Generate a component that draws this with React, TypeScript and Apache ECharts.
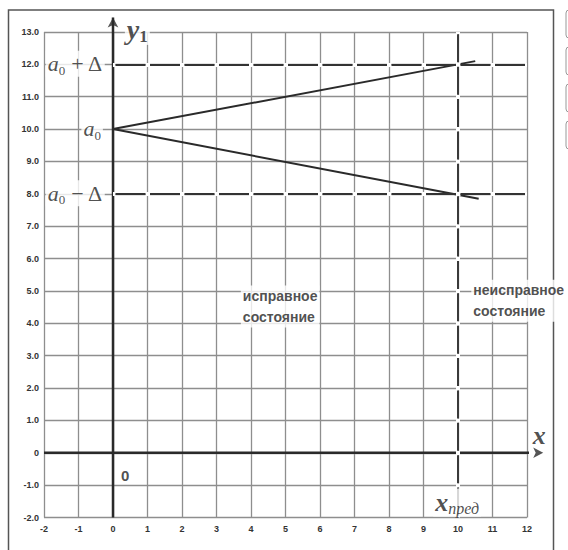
import React, { useEffect, useRef } from "react";
import * as echarts from "echarts";

// axis ranges
const xRange = [-2, 12];
const yRange = [-2, 13];
// key levels
const a0 = 10;
const delta = 2;
const xPred = 10;
// trend lines
const upperTrend = [[0, 10], [10.5, 12.1]];
const lowerTrend = [[0, 10], [10.6, 7.85]];
// axis arrows end points
const xAxisEnd = 12.47;
const yAxisEnd = 13.45;
// annotation anchor points
const aPlusPos = [-1.08, 12];
const a0Pos = [-0.59, 10];
const aMinusPos = [-1.08, 8];
const y1Pos = [0.72, 13.05];
const xPos = [12.37, 0.52];
const xPredPos = [9.99, -1.55];
const zeroPos = [0.37, -0.71];
const okPos = [3.72, 4.5];
const faultPos = [10.4, 4.68];

const SERIF = "'Liberation Serif', 'DejaVu Serif', serif";
const SANS = "'Liberation Sans', Arial, sans-serif";
const INK = "#222";

export default function App() {
  const ref = useRef<HTMLDivElement>(null);
  useEffect(() => {
    if (!ref.current) return;
    const chart = echarts.init(ref.current, null, { renderer: "svg" });

    const mainTok = { fontFamily: SERIF, fontStyle: "italic", fontSize: 22, color: INK, lineHeight: 26, verticalAlign: "middle" };
    const opTok = { fontFamily: SERIF, fontSize: 22, color: INK, lineHeight: 26, verticalAlign: "middle" };
    const subTok = { fontFamily: SERIF, fontSize: 13, color: INK, lineHeight: 16, verticalAlign: "bottom" };

    const txt = (pos: number[], formatter: string, extra: any = {}) => ({
      value: pos,
      label: {
        show: true,
        position: [0, 0],
        align: "center",
        verticalAlign: "middle",
        formatter,
        color: INK,
        backgroundColor: "#fff",
        padding: [0, 2],
        ...extra,
      },
    });

    const axisLineStyle = { color: "#2a2a2a", width: 2.5 };

    const hLines = [
      [{ coord: [0, a0 + delta] }, { coord: [xRange[1], a0 + delta] }],
      [{ coord: [0, a0 - delta] }, { coord: [xRange[1], a0 - delta] }],
    ];
    const vLines = [[{ coord: [xPred, yRange[1]] }, { coord: [xPred, yRange[0]] }]];

    const mark = (name: string, data: any[], lineStyle: any) => ({
      type: "line",
      name,
      data: [],
      silent: true,
      z: 2,
      markLine: {
        silent: true,
        symbol: "none",
        label: { show: false },
        lineStyle,
        emphasis: { disabled: true },
        data,
      },
    });

    const option: any = {
      animation: false,
      grid: { left: 44, top: 32, right: 41, bottom: 32.5 },
      xAxis: {
        type: "value",
        min: xRange[0],
        max: xRange[1],
        interval: 1,
        axisLine: { show: false },
        axisTick: { show: false },
        splitLine: { show: true, lineStyle: { color: "#8e8e8e", width: 1.3 } },
        axisLabel: { fontSize: 9, fontWeight: "bold", color: "#333", fontFamily: SANS, margin: 7 },
      },
      yAxis: {
        type: "value",
        min: yRange[0],
        max: yRange[1],
        interval: 1,
        axisLine: { show: false },
        axisTick: { show: false },
        splitLine: { show: true, lineStyle: { color: "#8e8e8e", width: 1.3 } },
        axisLabel: {
          fontSize: 9,
          fontWeight: "bold",
          color: "#333",
          fontFamily: SANS,
          margin: 5,
          formatter: (v: number) => (v === 0 ? "0" : v.toFixed(1)),
        },
      },
      graphic: [
        {
          type: "rect",
          z: 0,
          shape: { x: 8.5, y: 10, width: 545, height: 560 },
          style: { fill: "none", stroke: "#555", lineWidth: 1.5 },
        },
        ...[10, 47, 84, 121].map((y) => ({
          type: "rect",
          z: 0,
          shape: { x: 566, y, width: 20, height: 28, r: 3 },
          style: { fill: "#fff", stroke: "#999", lineWidth: 1 },
        })),
      ],
      series: [
        // white knock-outs at dash gaps
        mark("hknock", hLines, { color: "#fff", width: 4, type: [4.5, 30], dashOffset: 2.25 }),
        mark("vknock", vLines, { color: "#fff", width: 4, type: [4.37, 28], dashOffset: 2.18 }),
        // dashed limit lines
        mark("hdash", hLines, { color: "#333", width: 2, type: [30, 4.5], dashOffset: 32.25 }),
        mark("vdash", vLines, { color: "#3a3a3a", width: 2, type: [28, 4.37], dashOffset: 30.18 }),
        {
          type: "line",
          name: "xaxis",
          data: [[xRange[0], 0], [xAxisEnd, 0]],
          clip: false,
          silent: true,
          symbol: "none",
          z: 3,
          lineStyle: axisLineStyle,
        },
        {
          type: "line",
          name: "yaxis",
          data: [[0, yRange[0]], [0, yAxisEnd]],
          clip: false,
          silent: true,
          symbol: "none",
          z: 3,
          lineStyle: axisLineStyle,
        },
        {
          type: "scatter",
          name: "arrows",
          clip: false,
          silent: true,
          z: 3,
          symbol: "arrow",
          symbolSize: [8, 10],
          itemStyle: { color: "#2a2a2a" },
          data: [
            { value: [xAxisEnd, 0], symbolRotate: -90 },
            { value: [0, yAxisEnd], symbolRotate: 0 },
          ],
        },
        {
          type: "line",
          name: "upper",
          data: upperTrend,
          symbol: "none",
          silent: true,
          z: 4,
          lineStyle: { color: "#2a2a2a", width: 2 },
        },
        {
          type: "line",
          name: "lower",
          data: lowerTrend,
          symbol: "none",
          silent: true,
          z: 4,
          lineStyle: { color: "#2a2a2a", width: 2 },
        },
        {
          type: "scatter",
          name: "labels",
          clip: false,
          silent: true,
          z: 10,
          symbolSize: 1,
          itemStyle: { color: "rgba(0,0,0,0)" },
          data: [
            txt(aPlusPos, "{a|a}{s|0}{o| + Δ}", { rich: { a: mainTok, s: subTok, o: opTok } }),
            txt(a0Pos, "{a|a}{s|0}", { rich: { a: mainTok, s: subTok } }),
            txt(aMinusPos, "{a|a}{s|0}{o| − Δ}", { rich: { a: mainTok, s: subTok, o: opTok } }),
            txt(y1Pos, "{a|y}{s|1}", {
              rich: {
                a: { ...mainTok, fontSize: 28, fontWeight: "bold", lineHeight: 30 },
                s: { ...subTok, fontSize: 17, fontWeight: "bold", lineHeight: 19 },
              },
            }),
            txt(xPos, "{a|x}", {
              backgroundColor: "transparent",
              rich: { a: { ...mainTok, fontSize: 26, lineHeight: 28, fontWeight: "bold" } },
            }),
            txt(xPredPos, "{a|x}{s|пред}", {
              rich: {
                a: { ...mainTok, fontSize: 26, lineHeight: 28, fontWeight: "bold" },
                s: { ...subTok, fontStyle: "italic", fontSize: 16, lineHeight: 18 },
              },
            }),
            txt(zeroPos, "0", {
              backgroundColor: "transparent",
              fontFamily: SANS,
              fontWeight: "bold",
              fontSize: 15,
            }),
            txt(okPos, "исправное\nсостояние", {
              align: "left",
              fontFamily: SANS,
              fontWeight: "bold",
              fontSize: 14,
              lineHeight: 21,
            }),
            txt(faultPos, "неисправное\nсостояние", {
              align: "left",
              fontFamily: SANS,
              fontWeight: "bold",
              fontSize: 14,
              lineHeight: 21,
            }),
          ],
        },
      ],
    };
    chart.setOption(option);
    return () => chart.dispose();
  }, []);
  return (
    <div
      ref={ref}
      style={{ position: "absolute", left: 0, top: 0, width: 568, height: 550, background: "#fff" }}
    />
  );
}
